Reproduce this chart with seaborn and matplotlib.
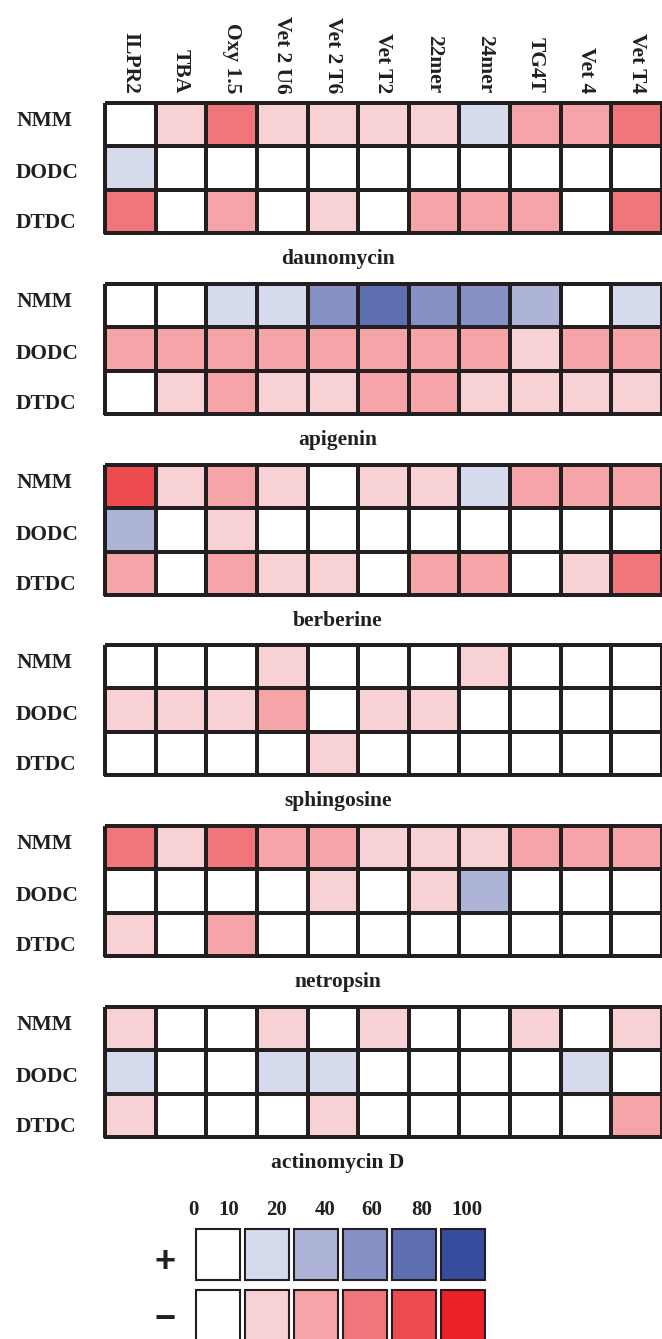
import numpy as np
import pandas as pd
import matplotlib
matplotlib.use("Agg")
import matplotlib.pyplot as plt
from matplotlib.colors import ListedColormap
import seaborn as sns

# -------------------------------------------------
# DATA (level -5..5: negative = red / "-", positive = blue / "+")
# -------------------------------------------------
targets = ['ILPR2', 'TBA', 'Oxy 1.5', 'Vet 2 U6', 'Vet 2 T6', 'Vet T2',
           '22mer', '24mer', 'TG4T', 'Vet 4', 'Vet T4']
ligands = ['NMM', 'DODC', 'DTDC']
drugs = ['daunomycin', 'apigenin', 'berberine', 'sphingosine',
         'netropsin', 'actinomycin D']

daunomycin = [[0, -1, -3, -1, -1, -1, -1, 1, -2, -2, -3],
              [1, 0, 0, 0, 0, 0, 0, 0, 0, 0, 0],
              [-3, 0, -2, 0, -1, 0, -2, -2, -2, 0, -3]]
apigenin = [[0, 0, 1, 1, 3, 4, 3, 3, 2, 0, 1],
            [-2, -2, -2, -2, -2, -2, -2, -2, -1, -2, -2],
            [0, -1, -2, -1, -1, -2, -2, -1, -1, -1, -1]]
berberine = [[-4, -1, -2, -1, 0, -1, -1, 1, -2, -2, -2],
             [2, 0, -1, 0, 0, 0, 0, 0, 0, 0, 0],
             [-2, 0, -2, -1, -1, 0, -2, -2, 0, -1, -3]]
sphingosine = [[0, 0, 0, -1, 0, 0, 0, -1, 0, 0, 0],
               [-1, -1, -1, -2, 0, -1, -1, 0, 0, 0, 0],
               [0, 0, 0, 0, -1, 0, 0, 0, 0, 0, 0]]
netropsin = [[-3, -1, -3, -2, -2, -1, -1, -1, -2, -2, -2],
             [0, 0, 0, 0, -1, 0, -1, 2, 0, 0, 0],
             [-1, 0, -2, 0, 0, 0, 0, 0, 0, 0, 0]]
actinomycin_d = [[-1, 0, 0, -1, 0, -1, 0, 0, -1, 0, -1],
                 [1, 0, 0, 1, 1, 0, 0, 0, 0, 1, 0],
                 [-1, 0, 0, 0, -1, 0, 0, 0, 0, 0, -2]]
panels = [daunomycin, apigenin, berberine, sphingosine, netropsin, actinomycin_d]

legend_plus = [0, 1, 2, 3, 4, 5]
legend_minus = [0, -1, -2, -3, -4, -5]
legend_labels = ['0', '10', '20', '40', '60', '80', '100']

# -------------------------------------------------
# STYLE
# -------------------------------------------------
reds = ['#ec2027', '#ee4b50', '#f1767b', '#f5a4a8', '#f8d1d4']
blues = ['#d5dbed', '#aeb4d8', '#8690c4', '#5e6eb2', '#384c9d']
cmap = ListedColormap(reds + ['#ffffff'] + blues)
EDGE = '#231f20'
SERIF = ['Liberation Serif', 'DejaVu Serif']
FS = 15.5

sns.set_theme(style="white")
plt.rcParams['font.family'] = SERIF

W, H = 662, 1339
fig = plt.figure(figsize=(W / 100, H / 100), dpi=100)


def px_axes(left, top, width, height):
    return fig.add_axes([left / W, 1 - (top + height) / H, width / W, height / H])


tops = [103, 284, 465, 645, 826, 1007]
for k, (drug, vals) in enumerate(zip(drugs, panels)):
    ax = px_axes(105, tops[k], 557, 130)
    df = pd.DataFrame(vals, index=ligands, columns=targets)
    sns.heatmap(df, ax=ax, cmap=cmap, vmin=-5.5, vmax=5.5, cbar=False,
                linewidths=1.45, linecolor=EDGE,
                xticklabels=(targets if k == 0 else False), yticklabels=ligands)
    ax.collections[0].set_clip_on(False)

    ax.set_yticks([0.42, 1.62, 2.76])
    ax.set_yticklabels(ligands, rotation=0, ha='left', fontsize=FS,
                       fontweight='bold', color='#231f20')
    ax.tick_params(axis='y', length=0, pad=64)

    if k == 0:
        ax.xaxis.tick_top()
        ax.set_xticklabels(targets, rotation=270, fontsize=FS,
                           fontweight='bold', color='#231f20')
        ax.tick_params(axis='x', length=0, pad=7)

    ax.set_xlabel('')
    ax.set_ylabel('')
    ax.text((338 - 105) / 557, -26 / 130, drug, transform=ax.transAxes,
            ha='center', va='center', fontsize=FS, fontweight='bold',
            color='#231f20')

# -------------------------------------------------
# LEGEND
# -------------------------------------------------
lax = px_axes(193.5, 1224, 294, 122)
for i, row in enumerate([legend_plus, legend_minus]):
    lax.bar(np.arange(len(row)) + 0.5, 0.836, bottom=i + 0.082, width=0.9,
            color=[cmap((v + 5.5) / 11) for v in row],
            edgecolor=EDGE, linewidth=1.5, clip_on=False)
lax.set_xlim(0, 6)
lax.set_ylim(2, 0)
for s in lax.spines.values():
    s.set_visible(False)
lax.xaxis.tick_top()
lax.set_xticks([0.0, 0.72, 1.70, 2.68, 3.64, 4.66, 5.58])
lax.set_xticklabels(legend_labels, fontsize=15, fontweight='bold', color='#231f20')
lax.set_yticks([0.56, 1.5])
lax.set_yticklabels(['+', '\u2212'], fontsize=26, fontweight='bold',
                    family=['Liberation Sans', 'DejaVu Sans'], color='#231f20')
lax.tick_params(axis='both', length=0)
lax.tick_params(axis='x', pad=3)
lax.tick_params(axis='y', pad=13)

fig.savefig('out.png', dpi=100)
